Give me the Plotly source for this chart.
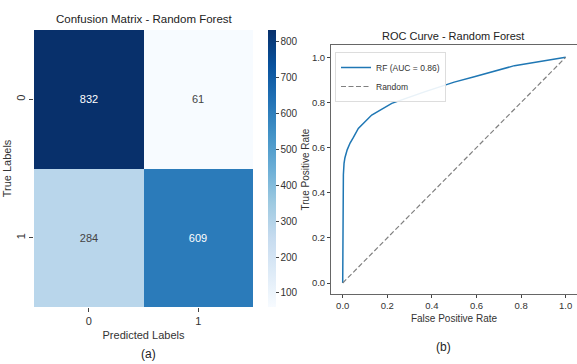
import plotly.graph_objects as go

# ---- data ----
cm_labels = ["0", "1"]
cm_values = [[832, 61], [284, 609]]
cbar_ticks = [100, 200, 300, 400, 500, 600, 700, 800]

fpr = [0.0, 0.001, 0.003, 0.006, 0.01, 0.02, 0.033, 0.048, 0.07, 0.13, 0.22, 0.37, 0.5, 0.59, 0.77, 1.0]
tpr = [0.0, 0.30, 0.48, 0.53, 0.555, 0.59, 0.62, 0.645, 0.685, 0.744, 0.796, 0.848, 0.89, 0.914, 0.963, 1.0]
rand_x = [0, 1]
rand_y = [0, 1]
roc_ticks = [0.0, 0.2, 0.4, 0.6, 0.8, 1.0]

W, H = 577, 364
FONT = "Liberation Sans, Arial, sans-serif"
blues = ["#f7fbff", "#deebf7", "#c6dbef", "#9ecae1", "#6baed6",
         "#4292c6", "#2171b5", "#08519c", "#08306b"]
scale = [[i / 8, c] for i, c in enumerate(blues)]

def px(x):
    return x / W

def py(y):
    return 1 - y / H

fig = go.Figure()

fig.add_trace(go.Heatmap(
    z=cm_values, x=cm_labels, y=cm_labels,
    colorscale=scale, zmin=61, zmax=832,
    texttemplate="%{z}", textfont=dict(size=11, family=FONT),
    xaxis="x", yaxis="y",
    colorbar=dict(
        x=px(268), xanchor="left", xpad=0, ypad=0, thickness=8, thicknessmode="pixels",
        y=py(168.5), yanchor="middle", len=(307 - 30) / H, lenmode="fraction",
        tickvals=cbar_ticks, ticks="outside", ticklen=3, outlinewidth=0,
        tickfont=dict(size=10, family=FONT, color="#333"),
    ),
    showscale=True,
))

fig.add_trace(go.Scatter(
    x=fpr, y=tpr, mode="lines", name="RF (AUC = 0.86)",
    line=dict(color="#1f77b4", width=1.5), xaxis="x2", yaxis="y2",
))
fig.add_trace(go.Scatter(
    x=rand_x, y=rand_y, mode="lines", name="Random",
    line=dict(color="#808080", width=1.2, dash="5px,2.5px"), xaxis="x2", yaxis="y2",
))

axis_font = dict(size=11, family=FONT, color="#333")
small_font = dict(size=9.5, family=FONT, color="#333")
fig.update_layout(
    width=W, height=H, margin=dict(l=0, r=0, t=0, b=0),
    paper_bgcolor="white", plot_bgcolor="white",
    font=dict(family=FONT, color="#333"),
    showlegend=True,
    xaxis=dict(domain=[px(34), px(253)], type="category", ticks="outside", ticklen=4,
               tickfont=axis_font, showgrid=False, zeroline=False, anchor="y",
               title=dict(text="Predicted Labels", font=dict(size=11, family=FONT), standoff=5)),
    yaxis=dict(domain=[py(307), py(30)], type="category", autorange="reversed",
               ticks="outside", ticklen=4, tickangle=-90, tickfont=axis_font,
               showgrid=False, zeroline=False, anchor="x",
               title=dict(text="True Labels", font=dict(size=11, family=FONT), standoff=0)),
    xaxis2=dict(domain=[px(331), 1.0], range=[-0.0525, 1.0507], tickvals=roc_ticks,
                tickformat=".1f", ticks="outside", ticklen=3, tickfont=small_font,
                showgrid=False, zeroline=False, showline=True, linecolor="#666", mirror=True,
                anchor="y2",
                title=dict(text="False Positive Rate", font=dict(size=10, family=FONT), standoff=4)),
    yaxis2=dict(domain=[py(294), py(45)], range=[-0.0487, 1.0545], tickvals=roc_ticks,
                tickformat=".1f", ticks="outside", ticklen=3, tickfont=small_font,
                showgrid=False, zeroline=False, showline=True, linecolor="#666", mirror=True,
                anchor="x2",
                title=dict(text="True Positive Rate", font=dict(size=10, family=FONT), standoff=0)),
    legend=dict(x=px(335), y=py(52), xanchor="left", yanchor="top",
                bgcolor="rgba(255,255,255,0.9)", bordercolor="#ddd", borderwidth=1,
                font=dict(size=8.5, family=FONT, color="#333"),
                tracegroupgap=0, itemwidth=30),
    annotations=[
        dict(text="Confusion Matrix - Random Forest", x=px(144), y=py(19), xref="paper", yref="paper",
             xanchor="center", yanchor="middle",
             showarrow=False, font=dict(size=11.5, family=FONT, color="#222")),
        dict(text="ROC Curve - Random Forest", x=px(453), y=py(36), xref="paper", yref="paper",
             xanchor="center", yanchor="middle",
             showarrow=False, font=dict(size=11, family=FONT, color="#222")),
        dict(text="(a)", x=px(148), y=py(354), xref="paper", yref="paper",
             xanchor="center", yanchor="middle",
             showarrow=False, font=dict(size=12, family=FONT, color="#222")),
        dict(text="(b)", x=px(443), y=py(347), xref="paper", yref="paper",
             xanchor="center", yanchor="middle",
             showarrow=False, font=dict(size=12, family=FONT, color="#222")),
    ],
)

fig.write_html("out.html")
